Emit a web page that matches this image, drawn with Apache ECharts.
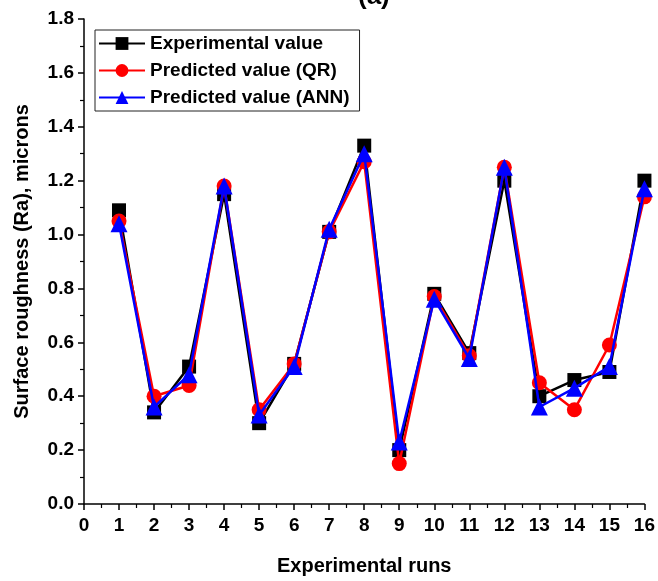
<!DOCTYPE html>
<html>
<head>
<meta charset="utf-8">
<script src="https://cdn.jsdelivr.net/npm/echarts@6/dist/echarts.min.js"></script>
<style>
  html, body { margin: 0; padding: 0; background: #fff; }
  #chart { width: 658px; height: 581px; }
</style>
</head>
<body>
<div id="chart"></div>
<script>
// Surface roughness (Ra) for 16 experimental runs: measured vs. QR and ANN predictions
const runs = [1, 2, 3, 4, 5, 6, 7, 8, 9, 10, 11, 12, 13, 14, 15, 16];
const experimental = [1.09, 0.34, 0.51, 1.15, 0.30, 0.52, 1.01, 1.33, 0.20, 0.78, 0.56, 1.20, 0.40, 0.46, 0.49, 1.20];
const predictedQR  = [1.05, 0.40, 0.44, 1.18, 0.35, 0.52, 1.01, 1.27, 0.15, 0.77, 0.55, 1.25, 0.45, 0.35, 0.59, 1.14];
const predictedANN = [1.04, 0.36, 0.48, 1.18, 0.33, 0.51, 1.02, 1.30, 0.23, 0.76, 0.54, 1.25, 0.36, 0.43, 0.51, 1.17];

const seriesNames = ['Experimental value', 'Predicted value (QR)', 'Predicted value (ANN)'];
const FONT = '"Liberation Sans", Arial, sans-serif';

const pairs = vals => runs.map((r, i) => [r, vals[i]]);

const chart = echarts.init(document.getElementById('chart'), null, { renderer: 'canvas' });

const axisCommon = {
  axisLine: { show: true, onZero: false, lineStyle: { color: '#000', width: 1.5 } },
  axisTick: { show: true, inside: false, length: 6, lineStyle: { color: '#000', width: 1.5 } },
  minorTick: { show: true, splitNumber: 2, length: 4, lineStyle: { color: '#000', width: 1.2 } },
  splitLine: { show: false },
  nameTextStyle: { color: '#000', fontFamily: FONT, fontWeight: 'bold', fontSize: 20 },
  axisLabel: { color: '#000', fontFamily: FONT, fontWeight: 'bold', fontSize: 19 }
};

chart.setOption({
  animation: false,
  backgroundColor: '#fff',
  graphic: [{
    type: 'text',
    left: 358,
    top: -16,
    style: { text: '(a)', font: 'bold 26px ' + FONT, fill: '#000' }
  }],
  grid: { left: 84, right: 13, top: 19, bottom: 76, containLabel: false },
  legend: {
    data: seriesNames,
    orient: 'vertical',
    left: 95,
    top: 30,
    itemWidth: 46,
    itemHeight: 16,
    itemGap: 8,
    padding: [4, 10, 4, 3],
    borderColor: '#222',
    borderWidth: 1,
    textStyle: { color: '#000', fontFamily: FONT, fontWeight: 'bold', fontSize: 19 }
  },
  xAxis: Object.assign({}, axisCommon, {
    type: 'value',
    min: 0,
    max: 16,
    interval: 1,
    name: 'Experimental runs',
    nameLocation: 'middle',
    nameGap: 52,
    axisLabel: Object.assign({}, axisCommon.axisLabel, { margin: 12 })
  }),
  yAxis: Object.assign({}, axisCommon, {
    type: 'value',
    min: 0,
    max: 1.8,
    interval: 0.2,
    name: 'Surface roughness (Ra), microns',
    nameLocation: 'middle',
    nameGap: 52,
    axisLabel: Object.assign({}, axisCommon.axisLabel, {
      margin: 10,
      formatter: v => v.toFixed(1)
    })
  }),
  series: [
    {
      name: seriesNames[0],
      type: 'line',
      data: pairs(experimental),
      symbol: 'rect',
      symbolSize: 14,
      color: '#000',
      lineStyle: { color: '#000', width: 2.5 },
      itemStyle: { color: '#000' },
      z: 2
    },
    {
      name: seriesNames[1],
      type: 'line',
      data: pairs(predictedQR),
      symbol: 'circle',
      symbolSize: 15,
      color: '#ff0000',
      lineStyle: { color: '#ff0000', width: 2.5 },
      itemStyle: { color: '#ff0000' },
      z: 3
    },
    {
      name: seriesNames[2],
      type: 'line',
      data: pairs(predictedANN),
      symbol: 'triangle',
      symbolSize: 17,
      color: '#0000ff',
      lineStyle: { color: '#0000ff', width: 2.5 },
      itemStyle: { color: '#0000ff' },
      z: 4
    }
  ]
});
</script>
</body>
</html>
